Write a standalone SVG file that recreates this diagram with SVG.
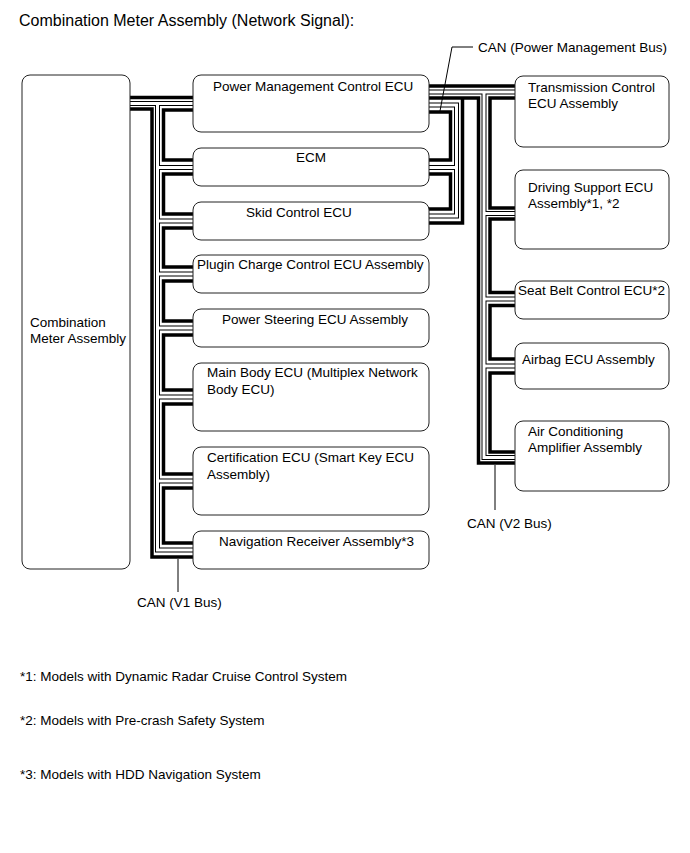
<svg xmlns="http://www.w3.org/2000/svg" width="690" height="853" viewBox="0 0 690 853">
<style>
text{font-family:"Liberation Sans",Arial,sans-serif;font-size:13.5px;fill:#000}
.title{font-size:16px}
.box{fill:#fff;stroke:#222;stroke-width:1}
.bk{fill:none;stroke:#000;stroke-width:3.5}
.dO{fill:none;stroke:#000;stroke-width:5}
.dI{fill:none;stroke:#fff;stroke-width:3}
.ld{fill:none;stroke:#000;stroke-width:1}
</style>
<rect width="690" height="853" fill="#fff"/>
<text class="title" x="19" y="26">Combination Meter Assembly (Network Signal):</text>

<g id="connectors">
  <!-- V1 bus thick lines -->
  <path class="bk" d="M130,97.5H193"/>
  <path class="bk" d="M130,109H152V557H193"/>
  <path class="bk" d="M193,110H163.5V160H193"/>
  <path class="bk" d="M193,174H163.5V214H193"/>
  <path class="bk" d="M193,228H163.5V267H193"/>
  <path class="bk" d="M193,281H163.5V321H193"/>
  <path class="bk" d="M193,335H163.5V390H193"/>
  <path class="bk" d="M193,404H163.5V474H193"/>
  <path class="bk" d="M193,488H163.5V543H193"/>
  <!-- PM bus thick lines -->
  <path class="bk" d="M429,98H478.5V463H515"/>
  <path class="bk" d="M462.5,98V223H429"/>
  <path class="bk" d="M429,112H450.5V160H429"/>
  <path class="bk" d="M429,174H450.5V209H429"/>
  <!-- V2 bus thick lines -->
  <path class="bk" d="M429,86H515"/>
  <path class="bk" d="M515,98H490V208H515"/>
  <path class="bk" d="M515,219H490V292.5H515"/>
  <path class="bk" d="M515,305.5H490V359H515"/>
  <path class="bk" d="M515,373H490V452H515"/>
  <!-- double lines: outer -->
  <path class="dO" d="M130,103.5H193M157.5,103.5V550H193M157.5,167.5H193M157.5,221H193M157.5,274H193M157.5,328H193M157.5,397H193M157.5,481H193"/>
  <path class="dO" d="M429,105H456.5V216H429M456.5,167.5H429"/>
  <path class="dO" d="M429,92H515M484,92V457.5H515M484,213.5H515M484,299H515M484,366H515"/>
  <!-- double lines: inner -->
  <path class="dI" d="M130,103.5H193M157.5,103.5V550H193M157.5,167.5H193M157.5,221H193M157.5,274H193M157.5,328H193M157.5,397H193M157.5,481H193"/>
  <path class="dI" d="M429,105H456.5V216H429M456.5,167.5H429"/>
  <path class="dI" d="M429,92H515M484,92V457.5H515M484,213.5H515M484,299H515M484,366H515"/>
  <!-- leaders -->
  <path class="ld" d="M178,559V592"/>
  <path class="ld" d="M495,465V510"/>
  <path class="ld" d="M473,47H452L440,111"/>
</g>

<g id="comb"><rect class="box" x="22" y="75" width="108" height="494" rx="8"/><text x="30" y="327">Combination</text><text x="30" y="343">Meter Assembly</text></g>
<g id="pm"><rect class="box" x="193" y="75" width="236" height="57" rx="8"/><text x="213" y="91">Power Management Control ECU</text></g>
<g id="ecm"><rect class="box" x="193" y="148" width="236" height="38" rx="8"/><text x="296" y="162">ECM</text></g>
<g id="skid"><rect class="box" x="193" y="202" width="236" height="38" rx="8"/><text x="246" y="217">Skid Control ECU</text></g>
<g id="plugin"><rect class="box" x="193" y="255" width="236" height="38" rx="8"/><text x="197" y="269">Plugin Charge Control ECU Assembly</text></g>
<g id="ps"><rect class="box" x="193" y="309" width="236" height="38" rx="8"/><text x="222" y="324">Power Steering ECU Assembly</text></g>
<g id="mainbody"><rect class="box" x="193" y="363" width="236" height="68" rx="8"/><text x="207" y="377">Main Body ECU (Multiplex Network</text><text x="207" y="394">Body ECU)</text></g>
<g id="cert"><rect class="box" x="193" y="447" width="236" height="68" rx="8"/><text x="207" y="462">Certification ECU (Smart Key ECU</text><text x="207" y="479">Assembly)</text></g>
<g id="nav"><rect class="box" x="193" y="531" width="236" height="38" rx="8"/><text x="219" y="546">Navigation Receiver Assembly*3</text></g>

<g id="trans"><rect class="box" x="515" y="76" width="154" height="71" rx="8"/><text x="528" y="92">Transmission Control</text><text x="528" y="108">ECU Assembly</text></g>
<g id="drive"><rect class="box" x="515" y="170" width="154" height="79" rx="8"/><text x="528" y="192">Driving Support ECU</text><text x="528" y="208">Assembly*1, *2</text></g>
<g id="seat"><rect class="box" x="515" y="281" width="154" height="38" rx="8"/><text x="518" y="295">Seat Belt Control ECU*2</text></g>
<g id="airbag"><rect class="box" x="515" y="343" width="154" height="46" rx="8"/><text x="522" y="364">Airbag ECU Assembly</text></g>
<g id="aircon"><rect class="box" x="515" y="421" width="154" height="70" rx="8"/><text x="528" y="436">Air Conditioning</text><text x="528" y="452">Amplifier Assembly</text></g>

<text x="478" y="52">CAN (Power Management Bus)</text>
<text x="467" y="528">CAN (V2 Bus)</text>
<text x="137" y="607">CAN (V1 Bus)</text>
<text x="20" y="681">*1: Models with Dynamic Radar Cruise Control System</text>
<text x="20" y="725">*2: Models with Pre-crash Safety System</text>
<text x="20" y="779">*3: Models with HDD Navigation System</text>
</svg>
